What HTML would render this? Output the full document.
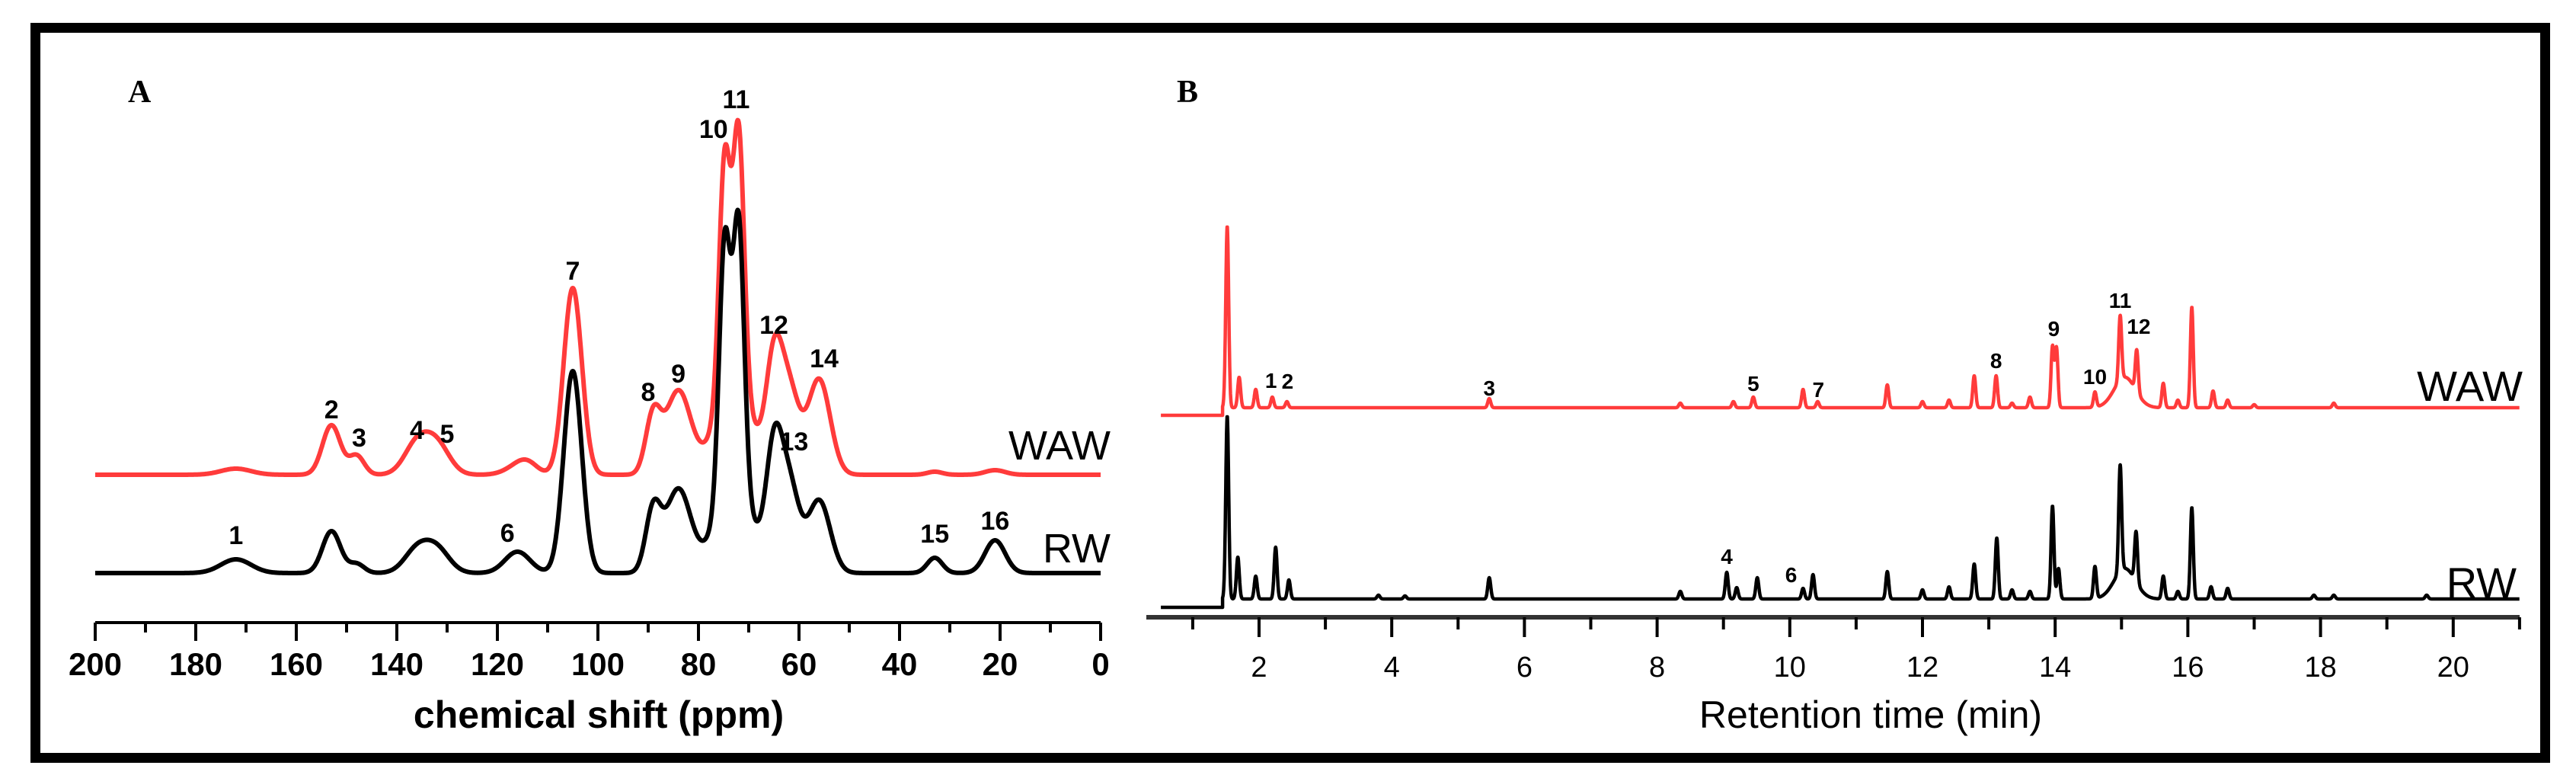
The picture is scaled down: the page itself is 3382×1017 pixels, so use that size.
<!DOCTYPE html>
<html><head><meta charset="utf-8"><style>
html,body{margin:0;padding:0;background:#fff}
svg{display:block}
text{font-family:"Liberation Sans",sans-serif;font-weight:bold}
</style></head><body>
<svg id="fig" width="3382" height="1017" viewBox="0 0 3382 1017" xmlns="http://www.w3.org/2000/svg">
<rect x="46.5" y="36.5" width="3295" height="958" fill="none" stroke="#000" stroke-width="13"/>
<text x="168" y="134" font-size="42" style="font-family:'Liberation Serif',serif">A</text>
<text x="1545" y="134" font-size="42" style="font-family:'Liberation Serif',serif">B</text>
<g id="gA"></g>
<g id="gB"></g>
</svg>
<script>
// ---------- Panel A data (13C NMR) ----------
const nmrPeakPos   = [74.8, 72, 65, 62, 56, 84, 89, 105, 153, 148, 136, 132, 172, 116, 33, 21, 114, 73];
const nmrPeakSig   = [1.1, 1.1, 1.6, 2, 2.2, 2.5, 1.5, 1.8, 1.8, 1.5, 2.5, 2.5, 3, 2.5, 1.5, 2, 2, 3.5];
const wawPeakH     = [310, 335, 135, 110, 125, 110, 75, 245, 65, 25, 40, 38, 8, 10, 4, 6, 12, 120];
const rwPeakH      = [330, 345, 145, 115, 95, 110, 80, 265, 55, 12, 30, 30, 18, 28, 20, 43, 0, 120];
const nmrTicks     = [200,180,160,140,120,100,80,60,40,20,0];
const nmrLabels    = ["1","2","3","4","5","6","7","8","9","10","11","12","13","14","15","16"];
const nmrLabelPpm  = [172,153,147.5,136,130,118,105,90,84,77,72.5,65,61,55,33,21];
const nmrLabelY    = [702,537,574,564,569,699,355,514,490,169,130,426,579,470,700,683];

// ---------- Panel B data (chromatogram) ----------
const wawRtPos = [1.52,1.7,1.95,2.2,2.42,5.47,8.35,9.15,9.45,10.2,10.42,11.47,12.0,12.4,12.78,13.11,13.35,13.62,13.96,14.02,14.6,14.98,15.23,15.05,15.63,15.85,16.06,16.38,16.6,18.2,17.0];
const wawRtH   = [238,40,24,14,8,12,6,8,14,24,8,30,8,10,42,42,6,14,80,78,20,85,55,40,32,10,132,22,10,6,4];
const rwRtPos  = [1.52,1.68,1.95,2.25,2.45,5.47,8.35,9.05,9.2,9.51,10.2,10.35,11.47,12.0,12.4,12.78,13.12,13.35,13.62,13.96,14.05,14.6,14.98,15.22,15.05,15.63,15.85,16.06,16.35,16.6,17.9,18.2,19.6,3.8,4.2];
const rwRtH    = [240,55,30,68,25,28,10,35,15,28,14,32,36,12,16,46,80,12,10,122,40,42,140,66,40,30,10,120,16,14,5,5,5,5,4];
const rtTicks  = [2,4,6,8,10,12,14,16,18,20];

const NS='http://www.w3.org/2000/svg';
function mk(tag,attrs,parent){const e=document.createElementNS(NS,tag);for(const k in attrs)e.setAttribute(k,attrs[k]);parent.appendChild(e);return e;}

// ---- Panel A ----
const gA=document.getElementById('gA');
const ax=p=>1445-(p/200)*1320;
function nmrVal(p,H){let s=0;for(let i=0;i<nmrPeakPos.length;i++){const d=(p-nmrPeakPos[i])/nmrPeakSig[i];s+=H[i]*Math.exp(-0.5*d*d);}return s;}
function nmrPath(H,base){let d='';for(let p=200;p>=0;p-=0.1){const x=ax(p),y=base-nmrVal(p,H);d+=(d?'L':'M')+x.toFixed(1)+' '+y.toFixed(1);}return d;}
const pW=mk('path',{d:nmrPath(wawPeakH,623),fill:'none',stroke:'#ff3b3b','stroke-width':6,'stroke-linejoin':'round'},gA);


const pR=mk('path',{d:nmrPath(rwPeakH,752),fill:'none',stroke:'#000','stroke-width':6,'stroke-linejoin':'round'},gA);


const axA=mk('line',{x1:ax(200),x2:ax(0),y1:817,y2:817,stroke:'#000','stroke-width':4},gA);


for(let p=200;p>=0;p-=10){const major=p%20===0;const t=mk('line',{x1:ax(p),x2:ax(p),y1:817,y2:major?841:830,stroke:'#000','stroke-width':4},gA);

}
nmrTicks.forEach(v=>{const t=mk('text',{x:ax(v),y:886,'font-size':42,'text-anchor':'middle'},gA);t.textContent=v;

});
const tA=mk('text',{x:786,y:955,'font-size':50,'text-anchor':'middle'},gA);tA.textContent='chemical shift (ppm)';


nmrLabels.forEach((l,i)=>{const t=mk('text',{x:ax(nmrLabelPpm[i]),y:nmrLabelY[i]+12,'font-size':34,'text-anchor':'middle'},gA);t.textContent=l;

});
const lw=mk('text',{x:1458,y:603,'font-size':54,'text-anchor':'end',style:'font-weight:normal'},gA);lw.textContent='WAW';


const lr=mk('text',{x:1458,y:738,'font-size':54,'text-anchor':'end',style:'font-weight:normal'},gA);lr.textContent='RW';



// ---- Panel B ----
const gB=document.getElementById('gB');
const bx=t=>1653+(t-2)*87.1;
const rtSig=0.022;
function rtVal(t,P,H){let s=0;for(let i=0;i<P.length;i++){const sg=(H[i]===40&&Math.abs(P[i]-15.05)<0.01)?0.16:rtSig;const d=(t-P[i])/sg;s+=H[i]*Math.exp(-0.5*d*d);}return s;}
function rtPath(P,H,base,flat){let d='M'+bx(0.52)+' '+flat+'L'+bx(1.45)+' '+flat;for(let t=1.45;t<=21.0;t+=0.004){d+='L'+bx(t).toFixed(1)+' '+(base-rtVal(t,P,H)).toFixed(1);}return d;}
const bW=mk('path',{d:rtPath(wawRtPos,wawRtH,535,545),fill:'none',stroke:'#ff3b3b','stroke-width':4.5,'stroke-linejoin':'round'},gB);


const bR=mk('path',{d:rtPath(rwRtPos,rwRtH,786,797),fill:'none',stroke:'#000','stroke-width':4.5,'stroke-linejoin':'round'},gB);


const axB=mk('line',{x1:1505,x2:3308,y1:810,y2:810,stroke:'#333','stroke-width':6},gB);


for(let t=1;t<=21;t++){const major=t%2===0;const tk=mk('line',{x1:bx(t),x2:bx(t),y1:810,y2:major?836:826,stroke:'#000','stroke-width':4},gB);

}
rtTicks.forEach(v=>{const t=mk('text',{x:bx(v),y:888,'font-size':38,'text-anchor':'middle',style:'font-weight:normal'},gB);t.textContent=v;

});
const tB=mk('text',{x:2456,y:955,'font-size':50,'text-anchor':'middle',style:'font-weight:normal'},gB);tB.textContent='Retention time (min)';


const bLabels=["1","2","3","5","7","8","9","10","11","12","4","6"];
const bLabelT=[2.18,2.43,5.47,9.45,10.43,13.11,13.98,14.6,14.98,15.26,9.05,10.02];
const bLabelY=[499,500,509,503,511,473,431,494,394,428,730,754];
bLabels.forEach((l,i)=>{const t=mk('text',{x:bx(bLabelT[i]),y:bLabelY[i]+10,'font-size':28,'text-anchor':'middle'},gB);t.textContent=l;

});
const bw=mk('text',{x:3312,y:526,'font-size':56,'text-anchor':'end',style:'font-weight:normal'},gB);bw.textContent='WAW';


const br=mk('text',{x:3304,y:784,'font-size':56,'text-anchor':'end',style:'font-weight:normal'},gB);br.textContent='RW';


</script>
</body></html>
